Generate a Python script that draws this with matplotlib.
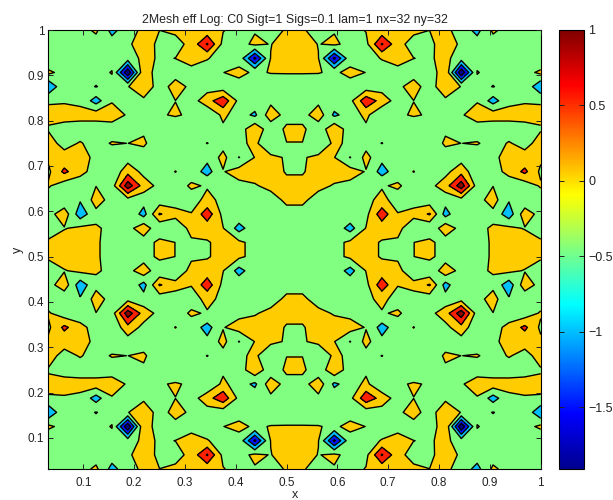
import numpy as np
import matplotlib
matplotlib.use("Agg")
import matplotlib.pyplot as plt
from matplotlib.colors import LinearSegmentedColormap, Normalize
from matplotlib.cm import ScalarMappable

plt.rcParams['font.family'] = ['Liberation Sans', 'DejaVu Sans']

TITLE = "2Mesh eff Log: C0 Sigt=1 Sigs=0.1 lam=1 nx=32 ny=32"
NX = 32
# Upper-left quadrant of the field (columns x=1/32..16/32)
row_32 = [-.2,-.2,-.2,.1,-.67,-.2,.11,.003,.1,.25,.15,.03,-.2,-.04,-.2,.05]
row_31 = [-.2,-.2,-.2,-.25,-.25,-.1,.3,-.14,-.18,.15,1.05,-.15,-.17,.1,-.02,.25]
row_30 = [-.5,-.2,-.2,-.2,-.2,-.25,.12,-.05,.005,.23,.03,-.2,-.13,-1.6,.02,.3]
row_29 = [.12,-.2,-.2,-.2,.03,-1.91,.45,-.4,-.25,-.2,-.25,-.005,.083,-.05,.015,.03]
row_28 = [-.95,-.08,-.2,.02,-.2,-.03,.45,-.3,.25,-.13,-.23,-.3,-.13,-.2,-.2,-.3]
row_27 = [-.03,-.05,-.1,-.72,-.04,-.2,-.13,-.2,-.005,-.23,.3,.85,-.15,-.2,-.13,-.2]
row_26 = [.08,.2,.15,.28,.23,-.05,-.2,-.05,.05,-.08,-.45,.12,-.27,-.6,.3,-.2]
row_25 = [-.03,-.2,-.2,-.37,-.23,-.2,-.08,-.2,-.4,-.2,-.2,-.1,-.29,.4,-.34,.1]
row_24 = [.15,-.13,.03,-.15,.03,-.003,.08,-.35,-.2,-.2,.01,-.18,-.05,.05,-.2,-.01]
row_23 = [.1,.15,.3,-.18,-.25,-.22,-.25,-.2,-.2,-.2,-.36,.15,-.52,.015,.05,-.02]
row_22 = [-.1,.62,.15,-.2,-.4,.32,-.15,-.2,.01,-.2,-.7,-.03,.22,.4,.3,-.06]
row_21 = [.06,-.3,-.3,-.01,-.25,1.3,.26,-.15,-.2,.06,-.04,-.2,-.15,-.08,.25,.2]
row_20 = [-.3,-.4,-.45,.2,-.17,-.2,-.3,-.31,-.27,-.18,.12,-.11,-.2,-.2,-.4,.2]
row_19 = [-.2,.3,-.8,-.13,-.2,-.03,-.7,.55,.2,.02,.8,-.15,-.13,-.2,-.3,-.35]
row_18 = [-.1,-.03,.11,.05,-.1,-.2,.35,-.45,-.47,.2,.2,.02,-.7,-.16,-.2,-.2]
row_17 = [.03,.25,.3,.1,-.3,-.2,-.29,.15,-.005,-.1,-.04,.15,.1,-.16,-.2,-.2]

LEVELS = [-2, -1.5, -1, -.5, 0, .5, 1, 1.5]
FILLS = ['#00008F', '#0010FF', '#00BFFF', '#80FF80', '#FFCC00', '#FF2000', '#8F0000']
CBAR_MIN, CBAR_MAX = -1.91, 1.0
CBAR_TICKS = [-1.5, -1, -.5, 0, .5, 1]

quad = np.array([row_17, row_18, row_19, row_20, row_21, row_22, row_23, row_24,
                 row_25, row_26, row_27, row_28, row_29, row_30, row_31, row_32])
upper = np.hstack([quad, quad[:, ::-1]])
Z = np.vstack([upper[::-1], upper])
x = np.arange(1, NX + 1) / NX
y = np.arange(1, NX + 1) / NX

W, H = 613, 500
fig = plt.figure(figsize=(W / 100, H / 100), dpi=100)
ax = fig.add_axes([48.4 / W, (H - 469) / H, (540.7 - 48.4) / W, 439 / H])
ax.contourf(x, y, Z, levels=LEVELS, colors=FILLS)
ax.contour(x, y, Z, levels=LEVELS[1:-1], colors='k', linewidths=1.0, linestyles='solid')
ax.set_xlim(1 / NX, 1)
ax.set_ylim(1 / NX, 1)
ax.set_xticks(np.arange(1, 11) / 10)
ax.set_yticks(np.arange(1, 11) / 10)
ax.set_xticklabels(['0.1','0.2','0.3','0.4','0.5','0.6','0.7','0.8','0.9','1'])
ax.set_yticklabels(['0.1','0.2','0.3','0.4','0.5','0.6','0.7','0.8','0.9','1'])
ax.tick_params(direction='in', length=3.5, width=0.7, top=True, right=True, labelsize=8.5, pad=3, color='#222222', labelcolor='#222222')
ax.tick_params(axis='x', pad=6)
ax.set_axisbelow(False)
for s in ax.spines.values():
    s.set_linewidth(0.8)
ax.set_xlabel('x', fontsize=9, labelpad=0, color='#222222')
ax.set_ylabel('y', fontsize=9, labelpad=3, color='#222222')
ax.set_title(TITLE, fontsize=8.95, pad=5, color='#222222')

cax = fig.add_axes([559 / W, (H - 469) / H, 25 / W, 439 / H])
jet = LinearSegmentedColormap.from_list('jet_smooth', [
    (0.0, (0, 0, .5625)), (.125, (0, 0, 1)), (.375, (0, 1, 1)), (.625, (1, 1, 0)),
    (.875, (1, 0, 0)), (1.0, (.5, 0, 0))], N=256)
cb = fig.colorbar(ScalarMappable(Normalize(CBAR_MIN, CBAR_MAX), jet), cax=cax)
cb.set_ticks(CBAR_TICKS)
cb.set_ticklabels(['\u22121.5', '\u22121', '\u22120.5', '0', '0.5', '1'])
cax.tick_params(direction='in', length=3.5, width=0.7, left=True, right=True, labelsize=9, pad=3, color='#222222', labelcolor='#222222')
cb.outline.set_linewidth(0.8)
fig.savefig('out.png', dpi=100)
